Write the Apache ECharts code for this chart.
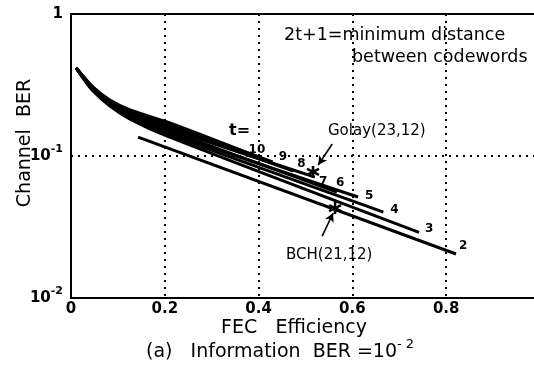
<!DOCTYPE html>
<html>
<head>
<meta charset="utf-8">
<script src="https://cdn.jsdelivr.net/npm/echarts@6/dist/echarts.min.js"></script>
<style>
html,body{margin:0;padding:0;background:#fff;overflow:hidden;}
#c{width:534px;height:366px;}
</style>
</head>
<body>
<div id="c"></div>
<script>
// ---- data ----
const xTicks = [0, 0.2, 0.4, 0.6, 0.8, 1];
const yTicks = [0.01, 0.1, 1];
// common x positions of the bundle (t = 10 ... 3)
const xBundle = [0.011, 0.024, 0.047, 0.083, 0.126, 0.205];
const yT10 = [0.417, 0.372, 0.306, 0.248, 0.211, 0.1735];
const yT9  = [0.417, 0.370, 0.303, 0.244, 0.2065, 0.168];
const yT8  = [0.417, 0.368, 0.301, 0.241, 0.202, 0.1627];
const yT7  = [0.417, 0.3665, 0.298, 0.2377, 0.198, 0.1574];
const yT6  = [0.417, 0.365, 0.295, 0.2346, 0.194, 0.1524];
const yT5  = [0.417, 0.3635, 0.292, 0.231, 0.190, 0.1476];
const yT4  = [0.417, 0.362, 0.290, 0.228, 0.186, 0.143];
const yT3  = [0.417, 0.360, 0.287, 0.225, 0.182, 0.138];
const tNames = ['10', '9', '8', '7', '6', '5', '4', '3'];
const endX = [0.40, 0.43, 0.474, 0.52, 0.567, 0.612, 0.666, 0.742];
const endY = [0.098, 0.091, 0.0784, 0.071, 0.0558, 0.0514, 0.0403, 0.029];
// t = 2 line
const t2X = [0.143, 0.821];
const t2Y = [0.136, 0.0204];
// marked codes
const golay = [0.516, 0.0772];
const bch = [0.563, 0.043];
const golayArrow = [[0.557, 0.1215], [0.527, 0.0864]];
const bchArrow = [[0.5355, 0.0273], [0.559, 0.0397]];

// ---- styling (not data) ----
const FONT = 'DejaVu Sans';
const labelOffsets = {
  '10': [-18, -7], '9': [-2, -5], '8': [-4, -7], '7': [-4, 5], '6': [-9, -9],
  '5': [-1, -1], '4': [-1, -2], '3': [-2, -3], '2': [-5, -8]
};
const yArrays = [yT10, yT9, yT8, yT7, yT6, yT5, yT4, yT3];

function buildSeries(name, xs, ys) {
  const data = xs.map((x, i) => [x, ys[i]]);
  return {
    type: 'line', name: name, smooth: 0.35, showSymbol: false, symbol: 'none',
    lineStyle: { color: '#000', width: 3 },
    endLabel: {
      show: true, formatter: name, offset: labelOffsets[name], color: '#000',
      fontFamily: FONT, fontSize: 12, fontWeight: 'bold'
    },
    data: data,
    z: 3
  };
}

const series = [];
tNames.forEach((t, i) => {
  series.push(buildSeries(t, xBundle.concat([endX[i]]), yArrays[i].concat([endY[i]])));
});
series.push(buildSeries('2', t2X, t2Y));

const starPath = 'path://M0,-10L0,10M-9,-5L9,5M-9,5L9,-5';
series.push({
  type: 'scatter', data: [golay, bch], symbol: starPath, symbolSize: 12,
  itemStyle: { color: 'transparent', borderColor: '#000', borderWidth: 2.5, opacity: 1 },
  z: 5,
  markLine: {
    silent: true, symbol: ['none', 'arrow'], symbolSize: [7, 9],
    lineStyle: { color: '#000', width: 1.6, type: 'solid' },
    label: { show: false },
    data: [
      [{ coord: golayArrow[0] }, { coord: golayArrow[1] }],
      [{ coord: bchArrow[0] }, { coord: bchArrow[1] }]
    ]
  }
});

function txt(x, y, text, size, opts) {
  return Object.assign({
    type: 'text', x: x, y: y,
    style: Object.assign({ text: text, fontFamily: FONT, fontSize: size, fill: '#000',
      align: 'left', verticalAlign: 'middle' }, opts && opts.style)
  }, opts && opts.el);
}

const chart = echarts.init(document.getElementById('c'), null, { renderer: 'canvas' });
chart.setOption({
  animation: false,
  backgroundColor: '#fff',
  grid: {
    left: 71, top: 14, right: -6, bottom: 68, outerBoundsMode: 'none', containLabel: false,
    show: true, borderColor: '#000', borderWidth: 2, backgroundColor: 'transparent'
  },
  xAxis: {
    type: 'value', min: xTicks[0], max: xTicks[xTicks.length - 1], interval: 0.2,
    axisLine: { show: true, lineStyle: { color: '#000', width: 2 } },
    axisTick: { show: false },
    axisLabel: {
      color: '#000', fontFamily: FONT, fontSize: 15, fontWeight: 'bold', margin: 4,
      formatter: v => (v === 0 ? '0' : (v > 0.9 ? '' : v.toFixed(1)))
    },
    splitLine: { show: true, lineStyle: { color: '#000', width: 2, type: [2, 5] } }
  },
  yAxis: {
    type: 'log', logBase: 10, min: yTicks[0], max: yTicks[yTicks.length - 1],
    axisLine: { show: true, lineStyle: { color: '#000', width: 2 } },
    axisTick: { show: false },
    axisLabel: {
      color: '#000', fontFamily: FONT, fontSize: 15, fontWeight: 'bold', margin: 8,
      formatter: v => (v >= 0.99 ? '1' : '{b|10}{s|' + Math.round(Math.log10(v)) + '}'),
      rich: {
        b: { fontFamily: FONT, fontSize: 15, fontWeight: 'bold', color: '#000' },
        s: { fontFamily: FONT, fontSize: 11, fontWeight: 'bold', color: '#000', padding: [0, 0, 13, 0] }
      }
    },
    splitLine: { show: true, lineStyle: { color: '#000', width: 2, type: [2, 5] } }
  },
  graphic: [
    txt(284, 35, '2t+1=minimum distance', 17.5),
    txt(352, 57, 'between codewords', 17.5),
    txt(229, 131, 't=', 16, { style: { fontWeight: 'bold' } }),
    txt(328, 131, 'Golay(23,12)', 15),
    txt(286, 255, 'BCH(21,12)', 15),
    txt(25, 143, 'Channel  BER', 19, { style: { align: 'center' }, el: { rotation: Math.PI / 2 } }),
    txt(294, 328, 'FEC   Efficiency', 19, { style: { align: 'center' } }),
    {
      type: 'text', x: 146, y: 352,
      style: {
        text: '{a|(a)   Information  BER =10}{s|- 2}', verticalAlign: 'middle',
        rich: {
          a: { fontFamily: FONT, fontSize: 19, fill: '#000' },
          s: { fontFamily: FONT, fontSize: 13, fill: '#000', padding: [0, 0, 14, 0] }
        }
      }
    }
  ],
  series: series
});
</script>
</body>
</html>
